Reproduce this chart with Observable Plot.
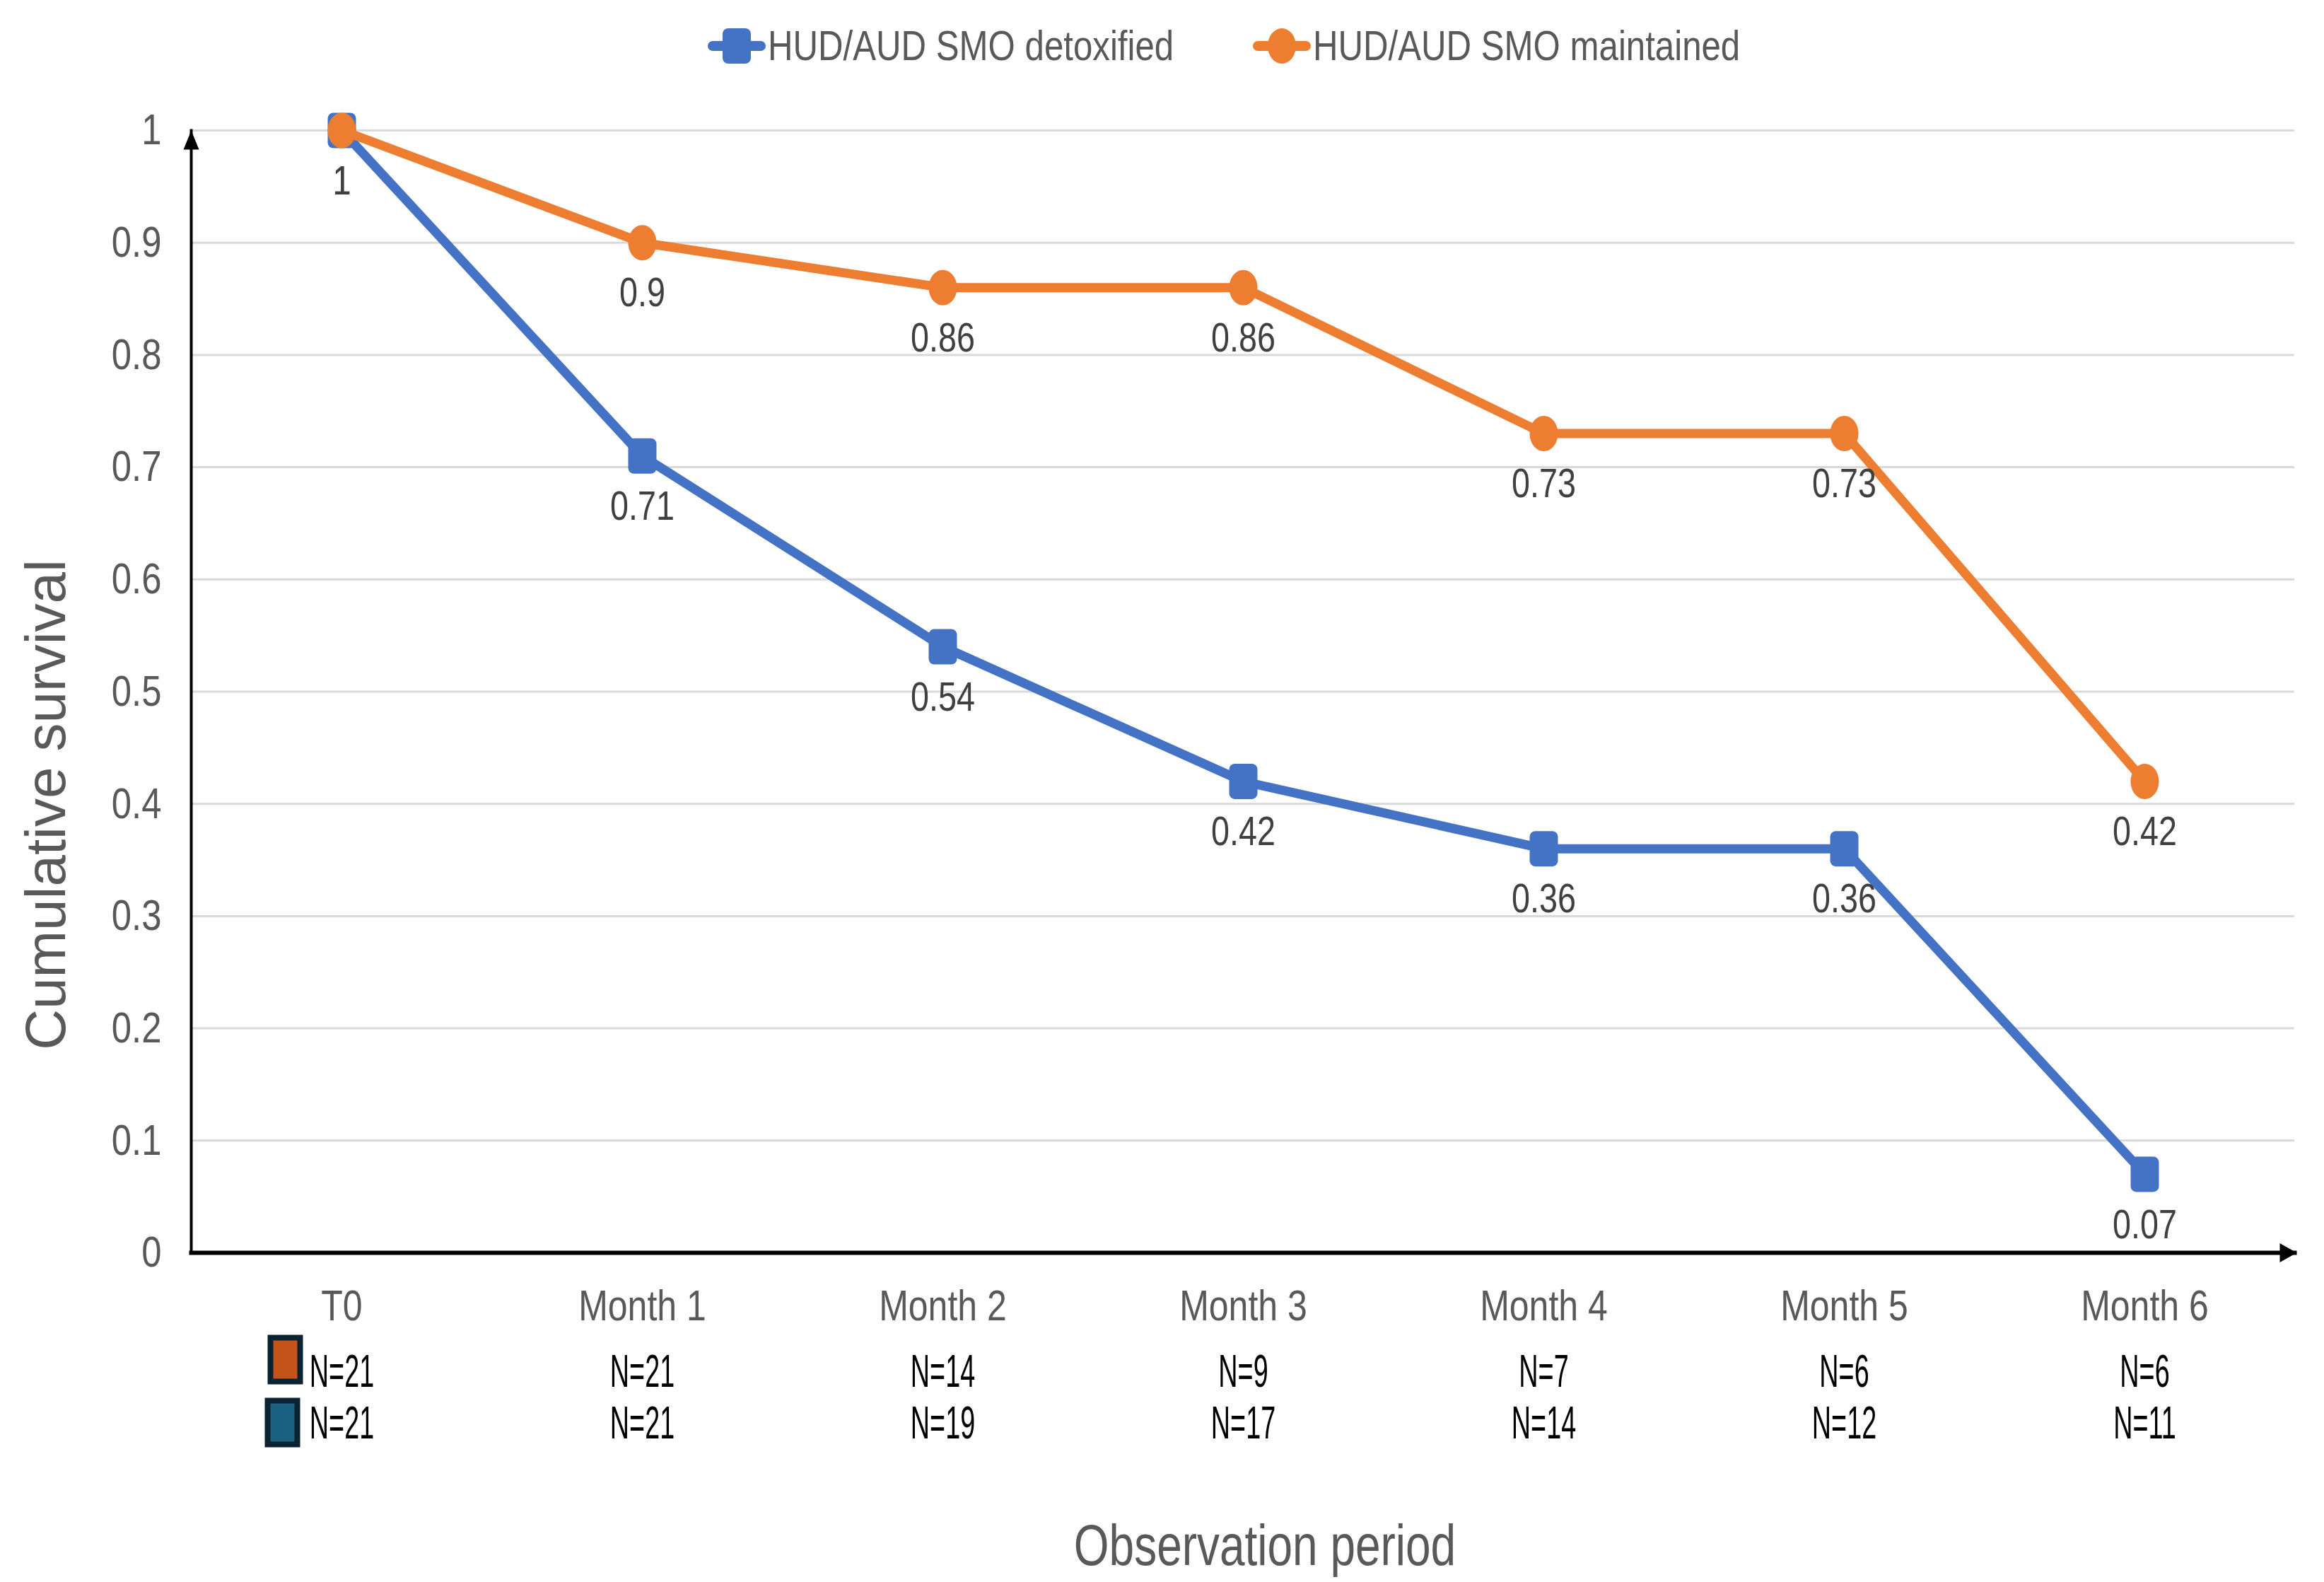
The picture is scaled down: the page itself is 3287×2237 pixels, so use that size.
<!DOCTYPE html>
<html><head><meta charset="utf-8">
<script src="https://cdn.jsdelivr.net/npm/d3@7"></script>
<script src="https://cdn.jsdelivr.net/npm/@observablehq/plot@0.6"></script>
<style>
body{margin:0;background:#fff;}
#legend{position:relative;height:130px;width:3287px;font-family:"Liberation Sans",Arial,sans-serif;font-size:60px;color:#595959;}
#legend svg{position:absolute;top:39px;display:block;}
#legend span{position:absolute;top:0;line-height:130px;white-space:nowrap;transform:scaleX(0.82);transform-origin:left center;}
</style></head><body>
<div id="legend"></div>
<div id="chart"></div>
<script>
// ---- data ----
const categories = ["T0", "Month 1", "Month 2", "Month 3", "Month 4", "Month 5", "Month 6"];
const detoxified = [1, 0.71, 0.54, 0.42, 0.36, 0.36, 0.07];
const maintained = [1, 0.9, 0.86, 0.86, 0.73, 0.73, 0.42];
const nMaintained = [21, 21, 14, 9, 7, 6, 6];
const nDetoxified = [21, 21, 19, 17, 14, 12, 11];
const yTicks = [0, 0.1, 0.2, 0.3, 0.4, 0.5, 0.6, 0.7, 0.8, 0.9, 1];
const seriesNames = ["HUD/AUD SMO detoxified", "HUD/AUD SMO maintained"];
const seriesColors = ["#4472C4", "#ED7D31"];
const swatchColors = ["#C4531A", "#1A6080"];
const xTitle = "Observation period";
const yTitle = "Cumulative survival";

const detoxRows = categories.map((c, i) => ({category: c, value: detoxified[i]}));
const maintRows = categories.map((c, i) => ({category: c, value: maintained[i]}));

// ---- symbols ----
const roundedRect = {draw(ctx) {
  const w = 20, h = 25, r = 8;
  ctx.moveTo(-w + r, -h); ctx.lineTo(w - r, -h); ctx.arcTo(w, -h, w, -h + r, r);
  ctx.lineTo(w, h - r); ctx.arcTo(w, h, w - r, h, r);
  ctx.lineTo(-w + r, h); ctx.arcTo(-w, h, -w, h - r, r);
  ctx.lineTo(-w, -h + r); ctx.arcTo(-w, -h, -w + r, -h, r); ctx.closePath();
}};
const ellipse = {draw(ctx) {
  const rx = 20, ry = 25, k = 0.5523;
  ctx.moveTo(rx, 0);
  ctx.bezierCurveTo(rx, ry * k, rx * k, ry, 0, ry);
  ctx.bezierCurveTo(-rx * k, ry, -rx, ry * k, -rx, 0);
  ctx.bezierCurveTo(-rx, -ry * k, -rx * k, -ry, 0, -ry);
  ctx.bezierCurveTo(rx * k, -ry, rx, -ry * k, rx, 0);
  ctx.closePath();
}};
const swatch = {draw(ctx) { ctx.rect(-21, -31, 42, 62); }};
const arrowUp = {draw(ctx) { ctx.moveTo(0, 0); ctx.lineTo(-11, 27); ctx.lineTo(11, 27); ctx.closePath(); }};
const arrowRight = {draw(ctx) { ctx.moveTo(3, 0); ctx.lineTo(-21, -13.5); ctx.lineTo(-21, 13.5); ctx.closePath(); }};

// ---- legend ----
const legend = document.getElementById("legend");
const legendMarkerLeft = [1000, 1771];
seriesNames.forEach((name, i) => {
  const shape = i === 0
    ? `<rect x="22" y="1" width="40" height="50" rx="8" fill="${seriesColors[i]}"/>`
    : `<ellipse cx="42" cy="26" rx="20" ry="25" fill="${seriesColors[i]}"/>`;
  legend.insertAdjacentHTML("beforeend",
    `<svg width="84" height="52" style="left:${legendMarkerLeft[i]}px"><line x1="8" x2="76" y1="26" y2="26" stroke="${seriesColors[i]}" stroke-width="14" stroke-linecap="round"/>${shape}</svg>` +
    `<span style="left:${legendMarkerLeft[i] + 86}px">${name}</span>`);
});

// ---- plot ----
const chart = Plot.plot({
  width: 3287,
  height: 2107,
  marginLeft: 270,
  marginRight: 42,
  marginTop: 54,
  marginBottom: 466,
  style: {fontFamily: `"Liberation Sans", Arial, sans-serif`, background: "#fff", overflow: "visible"},
  x: {type: "point", domain: categories, padding: 0.5},
  y: {domain: [0, 1]},
  marks: [
    Plot.gridY(yTicks.filter(d => d > 0), {stroke: "#D9D9D9", strokeOpacity: 1, strokeWidth: 3}),
    Plot.axisY({ticks: yTicks, tickSize: 0, tickPadding: 42, tickFormat: d => String(d), fontSize: 62, fill: "#595959", label: null}),
    Plot.axisX({tickSize: 0, tickPadding: 52, fontSize: 61, fill: "#595959", label: null}),
    Plot.frame({anchor: "left", stroke: "black", strokeWidth: 4}),
    Plot.frame({anchor: "bottom", stroke: "black", strokeWidth: 6}),
    Plot.dot([0], {frameAnchor: "top-left", symbol: arrowUp, fill: "black", stroke: "none"}),
    Plot.dot([0], {frameAnchor: "bottom-right", symbol: arrowRight, fill: "black", stroke: "none"}),
    Plot.line(detoxRows, {x: "category", y: "value", stroke: seriesColors[0], strokeWidth: 13, strokeLinejoin: "round"}),
    Plot.dot(detoxRows, {x: "category", y: "value", symbol: roundedRect, fill: seriesColors[0], stroke: "none"}),
    Plot.line(maintRows, {x: "category", y: "value", stroke: seriesColors[1], strokeWidth: 13, strokeLinejoin: "round"}),
    Plot.dot(maintRows, {x: "category", y: "value", symbol: ellipse, fill: seriesColors[1], stroke: "none"}),
    Plot.text(detoxRows, {x: "category", y: "value", text: d => String(d.value), dy: 72, fontSize: 57, fill: "#404040"}),
    Plot.text(maintRows, {x: "category", y: "value", text: d => String(d.value), dy: 72, fontSize: 57, fill: "#404040"}),
    Plot.text(categories, {x: d => d, text: (d, i) => "N=" + nMaintained[i], frameAnchor: "bottom", lineAnchor: "middle", dy: 169, fontSize: 64, fill: "#000"}),
    Plot.text(categories, {x: d => d, text: (d, i) => "N=" + nDetoxified[i], frameAnchor: "bottom", lineAnchor: "middle", dy: 242, fontSize: 64, fill: "#000"}),
    Plot.dot([categories[0]], {x: d => d, frameAnchor: "bottom", dx: -80, dy: 151, symbol: swatch, fill: swatchColors[0], stroke: "#0B2230", strokeWidth: 8}),
    Plot.dot([categories[0]], {x: d => d, frameAnchor: "bottom", dx: -84, dy: 240, symbol: swatch, fill: swatchColors[1], stroke: "#0B2230", strokeWidth: 8}),
    Plot.text([xTitle], {frameAnchor: "bottom", textAnchor: "middle", lineAnchor: "middle", dx: 31, dy: 415, fontSize: 82, fill: "#595959"}),
    Plot.text([yTitle], {frameAnchor: "left", textAnchor: "middle", lineAnchor: "middle", rotate: -90, dx: -204, dy: 160, fontSize: 80, fill: "#595959"})
  ]
});

// condense the texts horizontally (narrow face of the original)
function squeeze(el, s) {
  const t = el.getAttribute("transform");
  if (t) {
    el.setAttribute("transform", t + ` scale(${s},1)`);
  } else {
    const x = +el.getAttribute("x") || 0, y = +el.getAttribute("y") || 0;
    el.setAttribute("transform", `translate(${x},${y}) scale(${s},1) translate(${-x},${-y})`);
  }
}
d3.select(chart).selectAll("text").each(function() {
  const s = this.textContent;
  if (s === yTitle) return;
  if (/^N=/.test(s)) squeeze(this, 0.59);
  else if (s === xTitle) squeeze(this, 0.78);
  else squeeze(this, 0.82);
});

document.getElementById("chart").appendChild(chart);
</script>
</body></html>
